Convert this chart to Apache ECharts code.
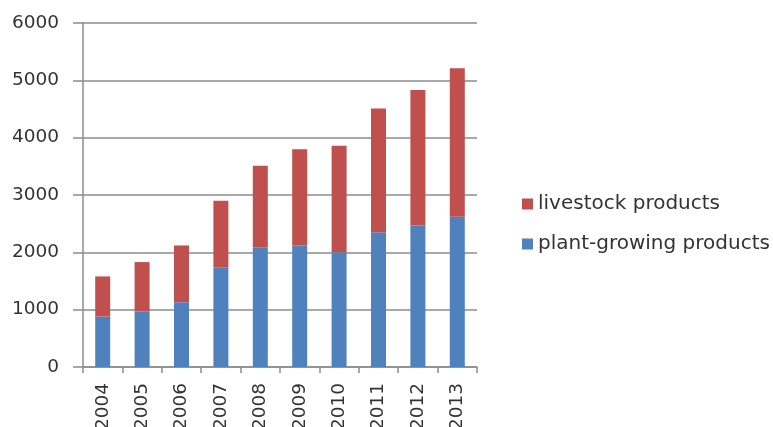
<!DOCTYPE html>
<html>
<head>
<meta charset="utf-8">
<script src="https://cdn.jsdelivr.net/npm/echarts@6/dist/echarts.min.js"></script>
<style>
  html, body { margin: 0; padding: 0; background: #fff; }
  #chart { width: 773px; height: 427px; }
</style>
</head>
<body>
<div id="chart"></div>
<script>
// Agricultural output by year, stacked: plant-growing at the bottom, livestock on top
const years = ['2004', '2005', '2006', '2007', '2008', '2009', '2010', '2011', '2012', '2013'];
const plantGrowing = [880, 970, 1130, 1740, 2090, 2120, 2000, 2350, 2470, 2620];
const livestock = [700, 860, 990, 1160, 1420, 1680, 1860, 2160, 2360, 2590];
const seriesNames = ['plant-growing products', 'livestock products'];
const legendOrder = ['livestock products', 'plant-growing products'];

const FONT = 'DejaVu Sans';
const TEXT = '#333333';
const LINE = '#8c8c8c';

const chart = echarts.init(document.getElementById('chart'), null, { renderer: 'canvas' });
chart.setOption({
  animation: false,
  backgroundColor: '#ffffff',
  color: ['#4f81bd', '#c0504d'],
  grid: {
    left: 83, right: 296, top: 23, bottom: 60,
    containLabel: false,
    outerBoundsMode: 'none'
  },
  legend: {
    data: legendOrder,
    orient: 'vertical',
    left: 517,
    top: 189,
    itemWidth: 11,
    itemHeight: 11,
    itemGap: 20,
    icon: 'rect',
    textStyle: { fontFamily: FONT, fontSize: 20, color: TEXT }
  },
  xAxis: {
    type: 'category',
    data: years,
    boundaryGap: true,
    axisLine: { lineStyle: { color: LINE, width: 1.5 } },
    axisTick: { show: true, length: 6, alignWithLabel: false, lineStyle: { color: LINE, width: 1.5 } },
    axisLabel: { rotate: 90, margin: 16, fontFamily: FONT, fontSize: 18.5, color: TEXT }
  },
  yAxis: {
    type: 'value',
    min: 0,
    max: 6000,
    interval: 1000,
    axisLine: { show: true, lineStyle: { color: LINE, width: 1.5 } },
    axisTick: { show: true, length: 10, lineStyle: { color: LINE, width: 1.5 } },
    splitLine: { show: true, lineStyle: { color: LINE, width: 1.5 } },
    axisLabel: { margin: 24, fontFamily: FONT, fontSize: 18.5, color: TEXT, formatter: (v) => String(v) }
  },
  series: [
    {
      name: seriesNames[0],
      type: 'bar',
      stack: 'total',
      barWidth: 15,
      data: plantGrowing
    },
    {
      name: seriesNames[1],
      type: 'bar',
      stack: 'total',
      barWidth: 15,
      data: livestock
    }
  ]
});
</script>
</body>
</html>
